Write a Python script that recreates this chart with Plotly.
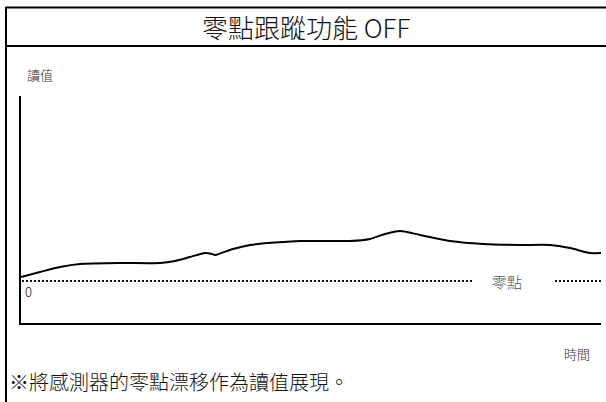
import plotly.graph_objects as go

# --- data -------------------------------------------------------------------
# time (arbitrary units) and sensor reading (arbitrary units, 0 = zero point)
time = [0, 19, 39, 59, 99, 139, 154, 169, 184, 191, 194, 212, 229, 246, 262,
        279, 329, 349, 364, 379, 386, 399, 429, 462, 499, 529, 549, 569, 580]
reading = [4, 9, 14, 17, 18, 18, 20, 24, 28, 27, 26, 32, 36, 38, 39,
           40, 40, 42, 47, 50, 49, 46, 40, 37, 36, 36, 33, 28, 28]

zero_left_t = [1, 451]
zero_right_t = [534, 580]
zero_value = [0, 0]

title_text = "零點跟蹤功能 OFF"
y_label = "讀值"
x_label = "時間"
zero_label = "零點"
note_text = "※將感測器的零點漂移作為讀值展現。"

FONT = "Noto Sans CJK TC, Noto Sans CJK JP, sans-serif"

# plot-area geometry in pixels
W, H = 606, 402
L, R, T, B = 21, 601, 96, 323


def px(x):
    return (x - L) / (R - L)


def py(y):
    return (B - y) / (B - T)


fig = go.Figure()

fig.add_trace(go.Scatter(
    x=zero_left_t, y=zero_value, mode="lines",
    line=dict(color="#111", width=2, dash="2px,2px"),
    hoverinfo="skip",
))
fig.add_trace(go.Scatter(
    x=zero_right_t, y=zero_value, mode="lines",
    line=dict(color="#111", width=2, dash="2px,2px"),
    hoverinfo="skip",
))
fig.add_trace(go.Scatter(
    x=time, y=reading, mode="lines",
    line=dict(color="#000", width=2, shape="spline", smoothing=0.6),
))

# box frame: top border, title separator, left border
frame = dict(type="line", xref="paper", yref="paper",
             line=dict(color="#000", width=2), layer="above")
fig.add_shape(**frame, x0=px(5.5), x1=px(610), y0=py(7.5), y1=py(7.5))
fig.add_shape(**frame, x0=px(5.5), x1=px(610), y0=py(46), y1=py(46))
fig.add_shape(**frame, x0=px(6), x1=px(6), y0=py(7), y1=py(410))


def label(text, x, y, size, color="#222", xanchor="center"):
    fig.add_annotation(text=text, x=px(x), y=py(y), xref="paper", yref="paper",
                       showarrow=False, xanchor=xanchor, yanchor="middle",
                       font=dict(family=FONT, size=size, color=color, weight=300))


label(title_text, 306, 26, 26, "#111")
label(y_label, 25, 75, 13, "#333", xanchor="left")
label("0", 23, 291, 13, "#111", xanchor="left")
label(zero_label, 507, 281, 15, "#555")
label(x_label, 592, 353, 13, "#333", xanchor="right")
label(note_text, 7, 381, 20, "#111", xanchor="left")

fig.update_xaxes(range=[0, 580], showgrid=False, zeroline=False,
                 showticklabels=False, ticks="", showline=True,
                 linecolor="#000", linewidth=2)
fig.update_yaxes(range=[-42, 185], showgrid=False, zeroline=False,
                 showticklabels=False, ticks="", showline=True,
                 linecolor="#000", linewidth=2)

fig.update_layout(
    width=W, height=H,
    margin=dict(l=L, r=W - R, t=T, b=H - B, pad=0),
    paper_bgcolor="white", plot_bgcolor="white",
    showlegend=False,
    font=dict(family=FONT),
)

fig.write_html("out.html", config={"displayModeBar": False},
               post_script="document.body.style.margin='0';")
